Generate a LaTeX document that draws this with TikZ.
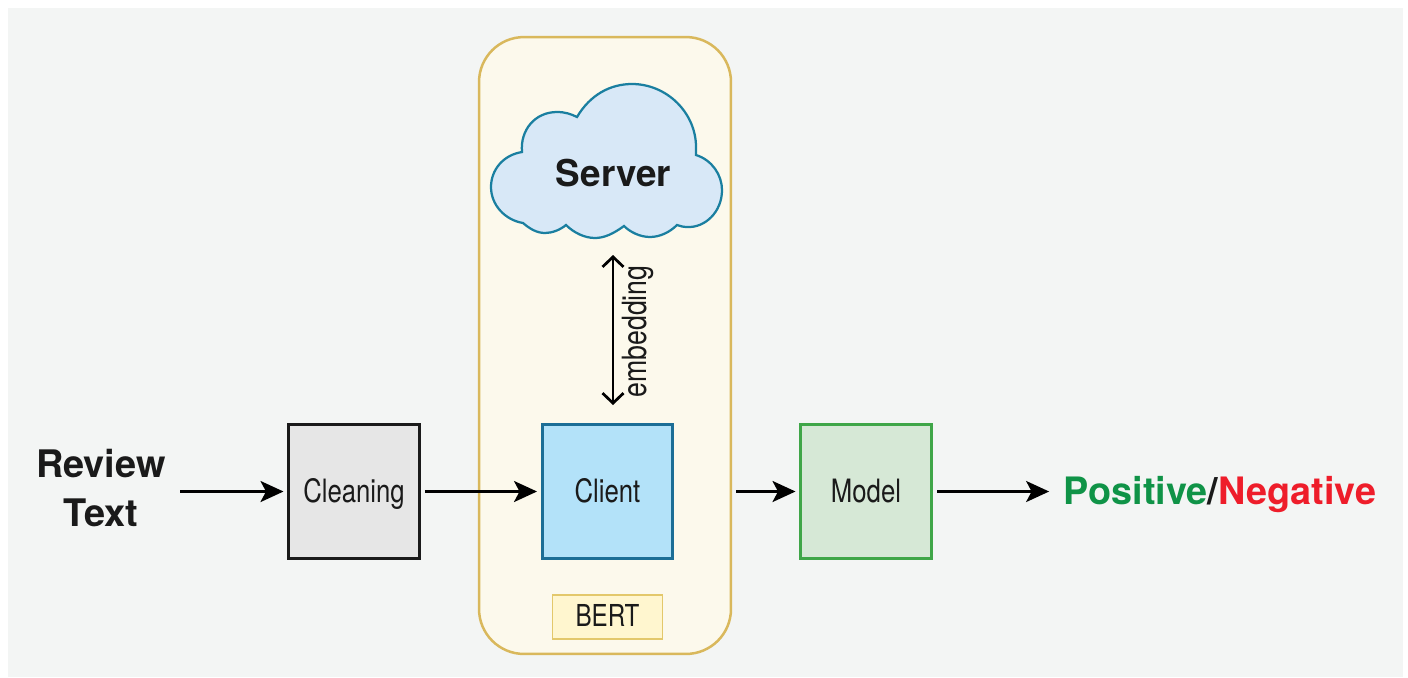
\documentclass[tikz,border=0pt]{standalone}
\usepackage{fontspec}
\setmainfont{TeX Gyre Heros}
\newfontfamily\condfont[FakeStretch=0.8]{TeX Gyre Heros}
\usetikzlibrary{arrows.meta,positioning}
\definecolor{pagegray}{HTML}{F3F5F4}
\definecolor{bertfill}{HTML}{FCF9EC}
\definecolor{bertline}{HTML}{D9B85C}
\definecolor{tagfill}{HTML}{FFF6CF}
\definecolor{tagline}{HTML}{E3C86B}
\definecolor{cloudfill}{HTML}{D8E8F7}
\definecolor{cloudline}{HTML}{1A7FA0}
\definecolor{cleanfill}{HTML}{E6E6E6}
\definecolor{cleanline}{HTML}{1A1A1A}
\definecolor{clientfill}{HTML}{B3E2F9}
\definecolor{clientline}{HTML}{1C6E96}
\definecolor{modelfill}{HTML}{D6E8D6}
\definecolor{modelline}{HTML}{3FA648}
\definecolor{posgreen}{HTML}{0F9347}
\definecolor{negred}{HTML}{EE1D2A}
\definecolor{inkblack}{HTML}{1A1A1A}
\tikzset{
    x=0.02cm,y=-0.02cm,
    flow/.style = {-{Stealth[length=0.46cm,width=0.42cm,inset=0.11cm]},line width=0.055cm,shorten <=0.08cm,shorten >=0.07cm},
    bothways/.style = {{Straight Barb[length=0.2cm,width=0.42cm]}-{Straight Barb[length=0.2cm,width=0.42cm]},line width=0.055cm},
    stepbox/.style = {draw, line width=0.06cm, minimum width=2.62cm, minimum height=2.68cm, text height=0.5cm, text depth=0.07cm, text=inkblack, font=\condfont\fontsize{18.3}{22}\selectfont},
    boldtext/.style = {inner xsep=0.2cm, inner ysep=0pt, align=center, text=inkblack, font=\bfseries\fontsize{21}{28}\selectfont}
}
\begin{document}
\begin{tikzpicture}
	\useasboundingbox (0,0) rectangle (1408,677);
	\fill[pagegray] (8,8) rectangle (1403,677);
	\node (bert) [draw=bertline, fill=bertfill, line width=0.05cm, rounded corners=0.9cm, minimum width=5.04cm, minimum height=12.34cm] at (605,345.5) {};
	% cloud
	\draw[cloudline, fill=cloudfill, line width=0.045cm]
		(577,117) .. controls (590,95) and (610,84) .. (632,84)
		.. controls (667,84) and (696,113) .. (696,147) -- (696,155)
		.. controls (712,160) and (722,175) .. (722,190)
		.. controls (722,212) and (705,228) .. (687,227)
		.. controls (683,227) and (680,226) .. (677,225)
		.. controls (670,232) and (660,237) .. (650,237)
		.. controls (640,237) and (630,232) .. (624,226)
		.. controls (613,234) and (604,238) .. (595,238)
		.. controls (585,238) and (574,233) .. (566,225)
		.. controls (560,230) and (552,233) .. (545,233)
		.. controls (537,233) and (530,229) .. (523,223)
		.. controls (505,220) and (491,205) .. (491,187)
		.. controls (491,170) and (503,155) .. (522,152)
		.. controls (520,130) and (535,112) .. (557,112)
		.. controls (565,112) and (571,114) .. (577,117) -- cycle;
	\node (server) [boldtext] at (613.5,173) {Server};
	\node (review) [boldtext, font=\bfseries\fontsize{21.6}{28}\selectfont] at (101,488) {Review\\Text};
	\node (cleaning) [stepbox, draw=cleanline, fill=cleanfill] at (354,491.5) {Cleaning};
	\node (client) [stepbox, draw=clientline, fill=clientfill] at (607.5,491.5) {Client};
	\node (model) [stepbox, draw=modelline, fill=modelfill] at (866,491.5) {Model};
	\node (tag) [draw=tagline, fill=tagfill, line width=0.035cm, minimum width=2.2cm, minimum height=0.88cm, text height=0.44cm, text depth=0.06cm, text=inkblack, font=\condfont\fontsize{17.2}{22}\selectfont] at (607.5,617) {BERT};
	\node (result) [inner xsep=0.22cm, inner ysep=0pt, font=\bfseries\fontsize{21.5}{28}\selectfont] at (1220,495) {\textcolor{posgreen}{Positive}\textcolor{inkblack}{/}\textcolor{negred}{Negative}};
	\coordinate (embtop) at (613,255);
	\coordinate (embbot) at (613,405);
	\node (emblabel) [rotate=90, text=inkblack, font=\condfont\fontsize{19}{22}\selectfont] at (638,331.5) {embedding};

	\draw[bothways] (embtop) -- (embbot);
	\draw[flow] (review.east |- cleaning.west) -- (cleaning.west);
	\draw[flow] (cleaning) -- (client);
	\draw[flow] (bert.east |- model.west) -- (model);
	\draw[flow] (model) -- (model -| result.west);
\end{tikzpicture}
\end{document}
